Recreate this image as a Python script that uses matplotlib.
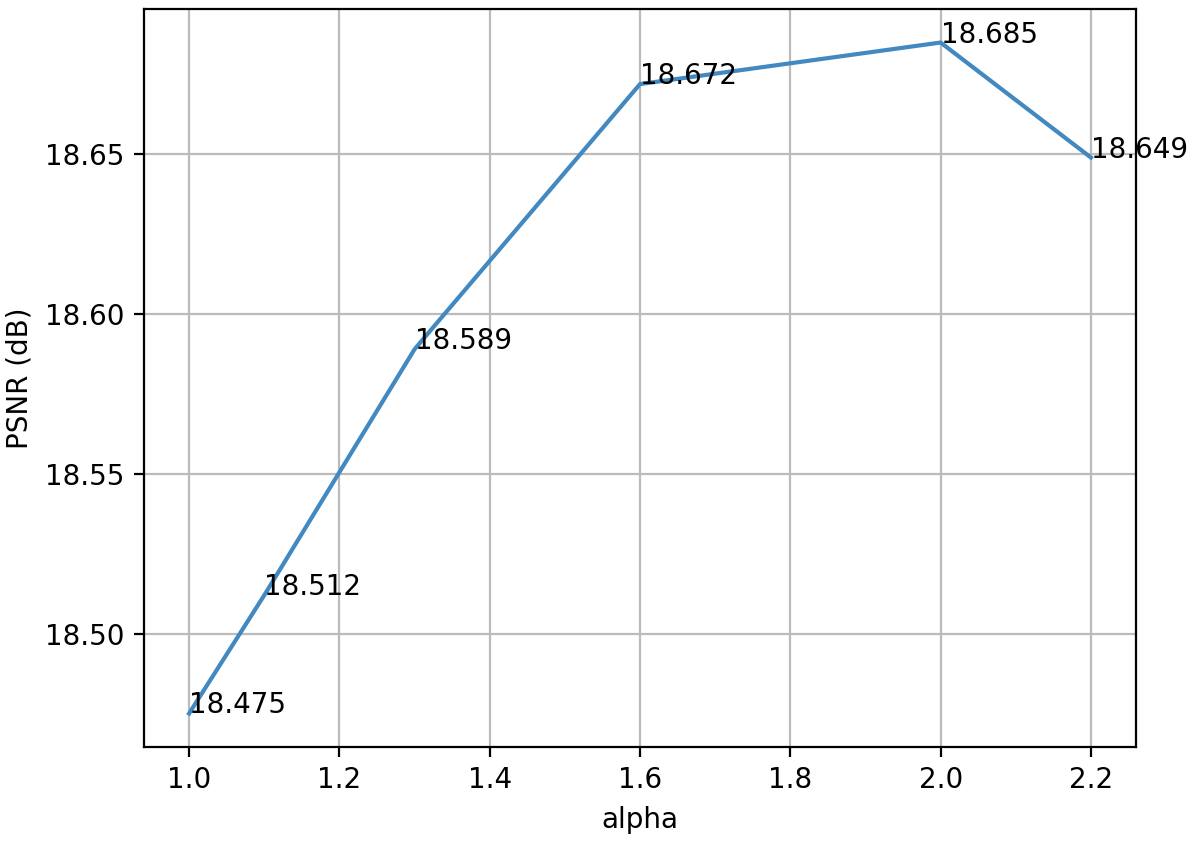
import matplotlib
matplotlib.use('Agg')
import matplotlib.pyplot as plt

# Dados do gráfico
alpha = [1.0, 1.1, 1.3, 1.6, 2.0, 2.2]
psnr = [18.475, 18.512, 18.589, 18.672, 18.685, 18.649]

fig, ax = plt.subplots(figsize=(5.995, 4.275), dpi=200)
fig.subplots_adjust(left=0.1201, right=0.9475, top=0.9895, bottom=0.1263)

ax.plot(alpha, psnr, color='#4189c0', linewidth=1.5)

# Rótulos de cada ponto
for a, p in zip(alpha, psnr):
    ax.text(a, p, '%.3f' % p, fontsize=10)

ax.grid(True, color='#bbbbbb', linewidth=0.8)
ax.set_xlabel('alpha')
ax.set_ylabel('PSNR (dB)')

fig.savefig('out.png', dpi=200)
